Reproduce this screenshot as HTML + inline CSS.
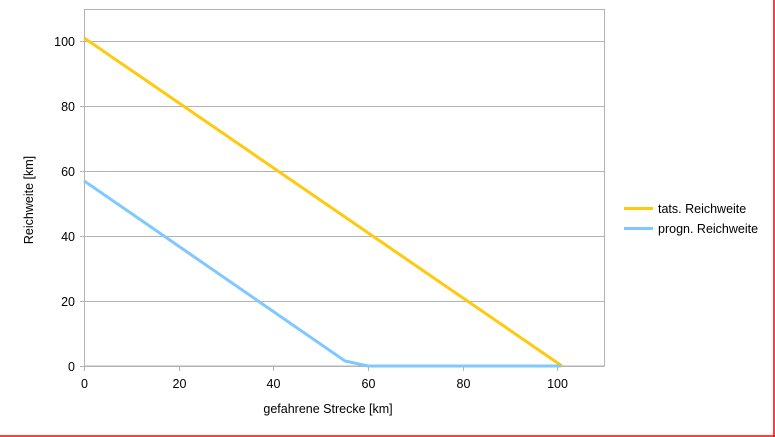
<!DOCTYPE html>
<html><head><meta charset="utf-8"><style>
html,body{margin:0;padding:0;background:#fff;}
svg{display:block;}
text{font-family:"Liberation Sans",Arial,sans-serif;font-size:12.5px;fill:#000;}
</style></head><body>
<svg width="775" height="437" viewBox="0 0 775 437">
<rect x="0" y="0" width="775" height="437" fill="#fff"/>
<g stroke="#b3b3b3" stroke-width="1" fill="none">
<rect x="84.5" y="9.5" width="520" height="356.5"/>
<line x1="80" y1="41.5" x2="604.5" y2="41.5"/>
<line x1="80" y1="106.5" x2="604.5" y2="106.5"/>
<line x1="80" y1="171.5" x2="604.5" y2="171.5"/>
<line x1="80" y1="236.5" x2="604.5" y2="236.5"/>
<line x1="80" y1="301.5" x2="604.5" y2="301.5"/>
<line x1="80" y1="366.5" x2="604.5" y2="366.5"/>
<line x1="84.5" y1="366" x2="84.5" y2="371"/>
<line x1="179.5" y1="366" x2="179.5" y2="371"/>
<line x1="273.5" y1="366" x2="273.5" y2="371"/>
<line x1="368.5" y1="366" x2="368.5" y2="371"/>
<line x1="463.5" y1="366" x2="463.5" y2="371"/>
<line x1="557.5" y1="366" x2="557.5" y2="371"/>
</g>
<g text-anchor="end">
<text x="75" y="46">100</text>
<text x="75" y="111">80</text>
<text x="75" y="176">60</text>
<text x="75" y="241">40</text>
<text x="75" y="306">20</text>
<text x="75" y="371">0</text>
</g>
<g text-anchor="middle">
<text x="84.5" y="388">0</text>
<text x="179.5" y="388">20</text>
<text x="273.5" y="388">40</text>
<text x="368.5" y="388">60</text>
<text x="463.5" y="388">80</text>
<text x="557.5" y="388">100</text>
<text x="328" y="413">gefahrene Strecke [km]</text>
<text transform="translate(33,200) rotate(-90)">Reichweite [km]</text>
</g>
<polyline points="84,37.8 562,366" stroke="#ffc90e" stroke-width="3" fill="none"/>
<polyline points="84,180.8 345,361 368,366 561,366" stroke="#80c8ff" stroke-width="3" fill="none"/>
<line x1="624" y1="208.5" x2="653" y2="208.5" stroke="#ffc90e" stroke-width="3"/>
<line x1="624" y1="228.5" x2="653" y2="228.5" stroke="#80c8ff" stroke-width="3"/>
<text x="658" y="213">tats. Reichweite</text>
<text x="658" y="233">progn. Reichweite</text>
<line x1="0" y1="436" x2="775" y2="436" stroke="#ff0000" stroke-width="1.5"/>
<line x1="774" y1="0" x2="774" y2="437" stroke="#ff0000" stroke-width="1.5"/>
</svg>
</body></html>
